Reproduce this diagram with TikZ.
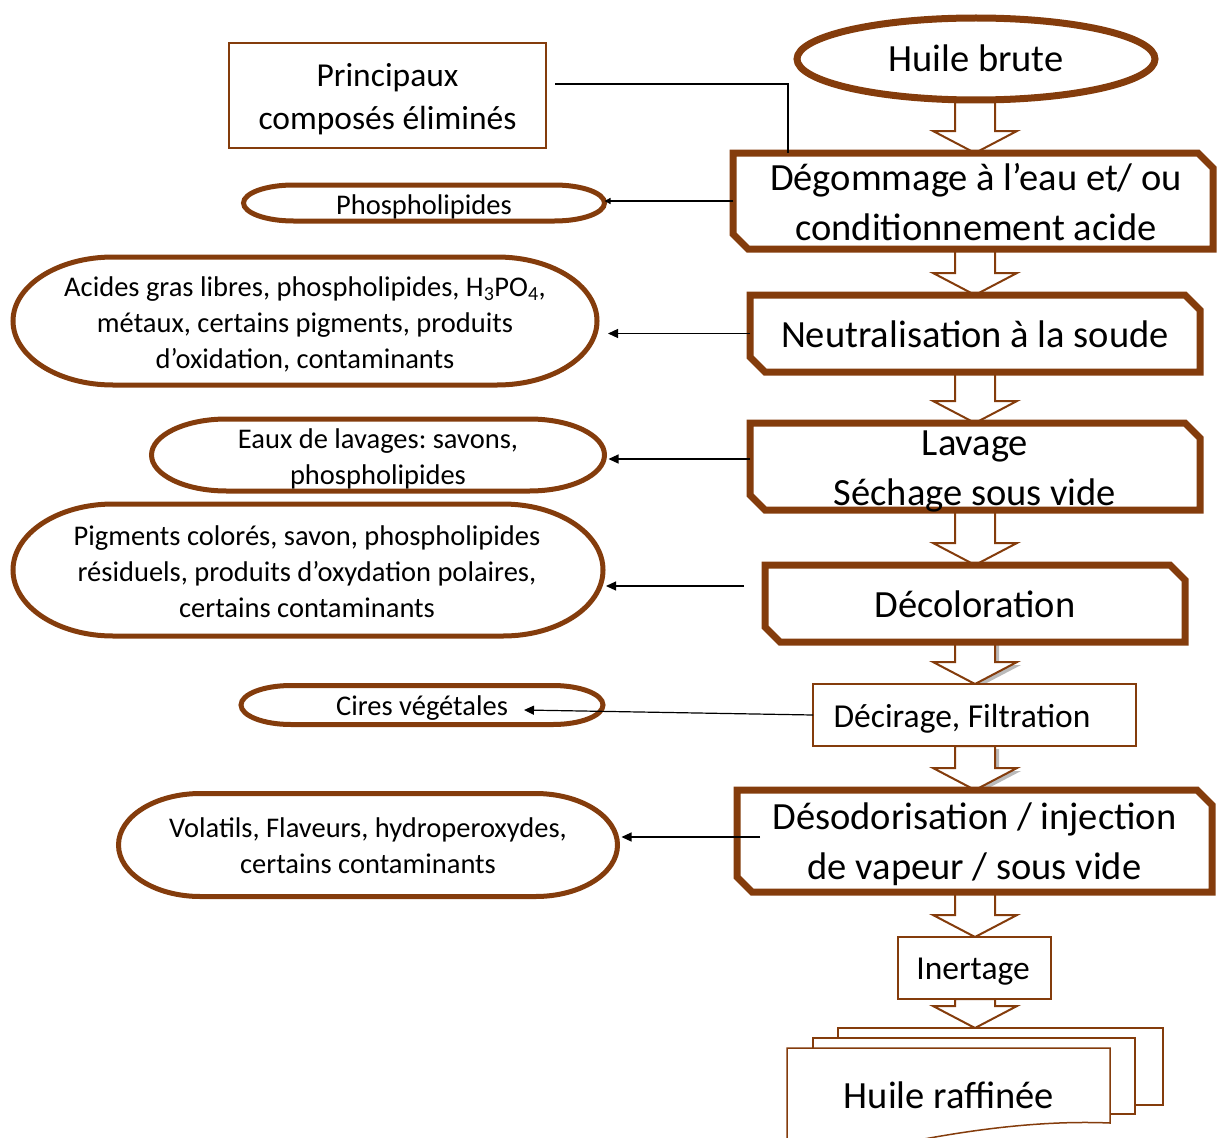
\documentclass[tikz,border=0pt]{standalone}
\usepackage{fontspec}
\setmainfont{Carlito}
\usetikzlibrary{shapes.geometric,arrows.meta,calc,backgrounds,shadows}
\definecolor{brn}{RGB}{132,60,12}
\frenchspacing
\newcommand\blockarrow[3][]{%
  \path let \p1=(#2), \p2=(#3) in [barrow,#1]
    (\x1-20pt,\y1) -- (\x1+20pt,\y1) -- (\x1+20pt,\y2+22pt) -- (\x1+42pt,\y2+22pt)
    -- (\x1,\y2) -- (\x1-42pt,\y2+22pt) -- (\x1-20pt,\y2+22pt) -- cycle;}
\newcommand\snipoutline[1]{%
  \draw[snipline] (#1.north west) -- ([xshift=-15pt]#1.north east) -- ([yshift=-15pt]#1.north east)
    -- (#1.south east) -- ([xshift=15pt]#1.south west) -- ([yshift=15pt]#1.south west) -- cycle;}
% rounded oval outline: node, x radius, y radius (pt)
\newcommand\ovaloutline[3]{%
  \draw[ovalline] ([xshift=#2pt]#1.north west) -- ([xshift=-#2pt]#1.north east)
    arc[start angle=90, end angle=-90, x radius=#2pt, y radius=#3pt]
    -- ([xshift=#2pt]#1.south west)
    arc[start angle=270, end angle=90, x radius=#2pt, y radius=#3pt] -- cycle;}
\begin{document}
\begin{tikzpicture}[x=1pt,y=-1pt,
  bigbox/.style={rectangle, fill=white, inner sep=0pt, outer sep=0pt},
  thinbox/.style={rectangle, draw=brn, line width=1.5pt, fill=white, inner sep=0pt, outer sep=0pt},
  oval/.style={ellipse, draw=brn, line width=7pt, fill=white, inner sep=0pt, outer sep=0pt},
  ovalbox/.style={rectangle, inner sep=0pt, outer sep=0pt},
  ovalline/.style={draw=brn, fill=white, line width=5pt},
  bigtxt/.style={font=\fontsize{38.5}{50}\selectfont, align=center, inner sep=0pt},
  midtxt/.style={font=\fontsize{33.5}{43}\selectfont, align=center, inner sep=0pt},
  smalltxt/.style={font=\fontsize{28.5}{36}\selectfont, align=center, inner sep=0pt},
  snipline/.style={draw=brn, line width=7pt, line join=miter},
  sheet/.style={draw=brn, line width=1.5pt, fill=white},
  conn/.style={draw=black, line width=1.2pt, -{Triangle[length=10pt,width=9pt]}},
  plain/.style={draw=black, line width=1.2pt},
  barrow/.style={draw=brn, fill=white, line width=2pt, line join=miter},
  shad/.style={drop shadow={shadow xshift=4pt, shadow yshift=-3pt, opacity=0.45, fill=black!60}}
]
\useasboundingbox (0,0) rectangle (1217,1137);
\clip (0,0) rectangle (1217,1137);
\coordinate (axis) at (975,0);

% main column
\node[oval, minimum width=358pt, minimum height=82pt] (hb) at (976,59) {};
\node[bigtxt] (thb) at (976,58) {Huile brute};

\node[bigbox, minimum width=480pt, minimum height=96pt] (degom) at (973,201) {};
\snipoutline{degom}
\node[bigtxt] (tdegom) at (976,202) {Dégommage à l’eau et/ ou\\conditionnement acide};

\node[bigbox, minimum width=450pt, minimum height=77pt] (neut) at (975,333.5) {};
\snipoutline{neut}
\node[bigtxt] (tneut) at (975,334) {Neutralisation à la soude};

\node[bigbox, minimum width=450pt, minimum height=87pt] (lav) at (975,466.5) {};
\snipoutline{lav}
\node[bigtxt] (tlav) at (975,471.5) {Lavage\\Séchage sous vide};

\node[bigbox, minimum width=420pt, minimum height=77pt] (decol) at (975,603.5) {};
\snipoutline{decol}
\node[bigtxt] (tdecol) at (975,604) {Décoloration};

\node[thinbox, minimum width=323pt, minimum height=62pt] (decir) at (974.5,715) {};
\node[midtxt] (tdecir) at (962,719) {Décirage, Filtration};

\node[bigbox, minimum width=475pt, minimum height=102pt] (deso) at (974.5,841) {};
\snipoutline{deso}
\node[bigtxt] (tdeso) at (974.5,844.5) {Désodorisation / injection\\de vapeur / sous vide};

\node[thinbox, minimum width=153pt, minimum height=62pt] (inert) at (974.5,968) {};
\node[midtxt] (tinert) at (973,972) {Inertage};

% multidocument
\node[thinbox, minimum width=325pt, minimum height=77pt] (final) at (1000.5,1066.5) {};
\node[thinbox, minimum width=322pt, minimum height=76pt] (mid) at (974,1076) {};
\draw[sheet] (787,1165) -- (787,1048) -- (1110,1048) -- (1110,1123)
  .. controls (1040,1120) and (960,1130) .. (870,1150)
  .. controls (830,1158) and (805,1162) .. (787,1165) -- cycle;
\node[bigtxt] (tfinal) at (949,1095) {Huile raffinée};

% block arrows
\begin{scope}[on background layer]
\blockarrow{hb.south -| axis}{degom.north -| axis}
\blockarrow{degom.south -| axis}{neut.north}
\blockarrow{neut.south}{lav.north}
\blockarrow{lav.south}{decol.north}
\blockarrow[shad]{decol.south}{decir.north}
\blockarrow[shad]{decir.south -| axis}{deso.north}
\blockarrow{deso.south -| axis}{inert.north}
\blockarrow{inert.south -| axis}{final.north -| axis}
\end{scope}

% left column
\node[thinbox, minimum width=317pt, minimum height=105pt] (princ) at (387.5,95.5) {};
\node[midtxt] (tprinc) at (387.5,99) {Principaux\\composés éliminés};

\node[ovalbox, minimum width=361pt, minimum height=36pt] (phos) at (424,203) {};
\ovaloutline{phos}{50}{18}
\node[smalltxt] (tphos) at (424,207) {Phospholipides};

\node[ovalbox, minimum width=584pt, minimum height=128pt] (acides) at (305,321) {};
\ovaloutline{acides}{100}{64}
\node[smalltxt] (tacides) at (305,324) {Acides gras libres, phospholipides, H\textsubscript{3}PO\textsubscript{4},\\métaux, certains pigments, produits\\d’oxidation, contaminants};

\node[ovalbox, minimum width=453pt, minimum height=72pt] (eaux) at (378,455) {};
\ovaloutline{eaux}{75}{36}
\node[smalltxt] (teaux) at (378,458.5) {Eaux de lavages: savons,\\phospholipides};

\node[ovalbox, minimum width=590pt, minimum height=132pt] (pig) at (308,570) {};
\ovaloutline{pig}{100}{66}
\node[smalltxt] (tpig) at (307,572) {Pigments colorés, savon, phospholipides\\résiduels, produits d’oxydation polaires,\\certains contaminants};

\node[ovalbox, minimum width=362pt, minimum height=39pt] (cires) at (422,705) {};
\ovaloutline{cires}{50}{19.5}
\node[smalltxt] (tcires) at (422,708) {Cires végétales};

\node[ovalbox, minimum width=499pt, minimum height=103pt] (vol) at (368,845) {};
\ovaloutline{vol}{82}{51.5}
\node[smalltxt] (tvol) at (368,846) {Volatils, Flaveurs, hydroperoxydes,\\certains contaminants};

% connectors
\coordinate (p1) at (555,84);
\coordinate (p2) at (788,0);
\draw[plain] (p1) -| (p2 |- degom.north);

\draw[conn, -{Triangle[length=6pt,width=6pt]}] (degom.west) -- (degom.west -| phos.east);
\draw[conn] (neut.west) -- ($(neut.west -| acides.east)+(11,0)$);
\coordinate (s3) at (750,459);
\draw[conn] (s3) -- ($(s3 -| eaux.east)+(4,0)$);
\coordinate (s4) at (744,586);
\draw[conn] (s4) -- ($(s4 -| pig.east)+(3,0)$);
\coordinate (cend) at (524,710);
\draw[conn] (decir.west) -- (cend);
\coordinate (s6) at (760,837);
\draw[conn] (s6) -- ($(s6 -| vol.east)+(4,0)$);
\end{tikzpicture}
\end{document}
